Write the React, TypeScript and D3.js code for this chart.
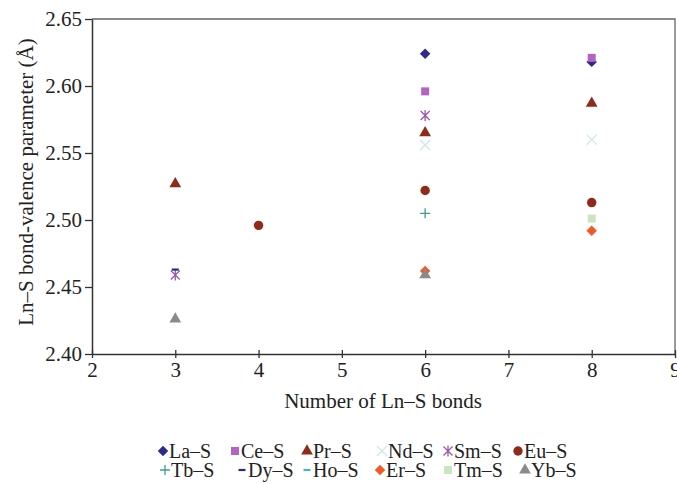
import React, { useEffect, useRef } from 'react';
import * as d3 from 'd3';

// [bond count, bond-valence parameter]
const laS: [number, number][] = [[6, 2.624], [8, 2.618]];
const ceS: [number, number][] = [[6, 2.596], [8, 2.621]];
const prS: [number, number][] = [[3, 2.527], [6, 2.565], [8, 2.587]];
const ndS: [number, number][] = [[6, 2.556], [8, 2.560]];
const smS: [number, number][] = [[3, 2.459], [6, 2.578]];
const euS: [number, number][] = [[4, 2.496], [6, 2.522], [8, 2.513]];
const tbS: [number, number][] = [[6, 2.505]];
const dyS: [number, number][] = [[3, 2.463]];
const hoS: [number, number][] = [];
const erS: [number, number][] = [[6, 2.462], [8, 2.492]];
const tmS: [number, number][] = [[8, 2.501]];
const ybS: [number, number][] = [[3, 2.426], [6, 2.459]];

const seriesNames = ['La–S', 'Ce–S', 'Pr–S', 'Nd–S', 'Sm–S', 'Eu–S', 'Tb–S', 'Dy–S', 'Ho–S', 'Er–S', 'Tm–S', 'Yb–S'];
const seriesData = [laS, ceS, prS, ndS, smS, euS, tbS, dyS, hoS, erS, tmS, ybS];
const seriesColors = ['#2f2a88', '#b463c2', '#8f2b1b', '#cfe7e7', '#9b55ad', '#8f2b1b', '#3f9a96', '#2d2b72', '#4aaedb', '#f05a28', '#c9e5c1', '#8a8a8a'];
const seriesMarkers = ['diamond', 'square', 'triangle', 'x', 'star', 'circle', 'plus', 'dash', 'dash', 'diamond', 'square', 'triangle'];

const xTicks = [2, 3, 4, 5, 6, 7, 8, 9];
const yTicks = [2.40, 2.45, 2.50, 2.55, 2.60, 2.65];

const FONT = '"Liberation Serif", "Times New Roman", serif';

const drawMarker = (g: any, kind: string, color: string) => {
  if (kind === 'diamond') {
    g.append('path').attr('d', d3.symbol(d3.symbolDiamond2, 70)()).attr('fill', color);
  } else if (kind === 'square') {
    g.append('path').attr('d', d3.symbol(d3.symbolSquare, 64)()).attr('fill', color);
  } else if (kind === 'triangle') {
    g.append('path').attr('d', d3.symbol(d3.symbolTriangle, 60)()).attr('fill', color);
  } else if (kind === 'circle') {
    g.append('path').attr('d', d3.symbol(d3.symbolCircle, 70)()).attr('fill', color);
  } else if (kind === 'x') {
    g.append('path').attr('d', 'M-5,-5L5,5M-5,5L5,-5').attr('stroke', color).attr('stroke-width', 1.3).attr('fill', 'none');
  } else if (kind === 'star') {
    g.append('path').attr('d', 'M-4.5,-4.5L4.5,4.5M-4.5,4.5L4.5,-4.5M0,-5.5L0,5.5').attr('stroke', color).attr('stroke-width', 1.3).attr('fill', 'none');
  } else if (kind === 'plus') {
    g.append('path').attr('d', 'M-5,0L5,0M0,-5L0,5').attr('stroke', color).attr('stroke-width', 1.3).attr('fill', 'none');
  } else if (kind === 'dash') {
    g.append('path').attr('d', 'M-3.5,0L3.5,0').attr('stroke', color).attr('stroke-width', 2.2).attr('fill', 'none');
  }
};

const App = () => {
  const svgRef = useRef<SVGSVGElement>(null);

  useEffect(() => {
    const margin = { top: 19, right: 2, bottom: 130, left: 92 };
    const W = 677;
    const H = 484;
    const width = W - margin.left - margin.right;
    const height = H - margin.top - margin.bottom;

    const root = d3.select(svgRef.current);
    root.selectAll('*').remove();
    root.attr('width', W).attr('height', H);

    root.append('rect').attr('width', W).attr('height', H).attr('fill', '#ffffff');

    const svg = root.append('g').attr('transform', `translate(${margin.left},${margin.top})`);

    const xScale = d3.scaleLinear().domain([2, 9]).range([0, width]);
    const yScale = d3.scaleLinear().domain([2.40, 2.65]).range([height, 0]);

    // frame (top and right)
    svg.append('path')
      .attr('d', `M0,0H${width}V${height}`)
      .attr('fill', 'none')
      .attr('stroke', '#666')
      .attr('stroke-width', 1.3);

    // x axis
    const xAxis = svg.append('g')
      .attr('transform', `translate(0,${height})`)
      .call(d3.axisBottom(xScale).tickValues(xTicks).tickSize(5).tickSizeOuter(0).tickFormat(d3.format('d')));
    xAxis.select('.domain').attr('stroke', '#333').attr('stroke-width', 1.5);
    xAxis.selectAll('.tick line').attr('stroke', '#333').attr('stroke-width', 1.3).attr('y1', -4).attr('y2', 4);
    xAxis.selectAll('.tick text')
      .attr('font-family', FONT).attr('font-size', 21).attr('fill', '#222').attr('y', 8);

    // y axis
    const yAxis = svg.append('g')
      .call(d3.axisLeft(yScale).tickValues(yTicks).tickSize(7).tickSizeOuter(0).tickFormat(d3.format('.2f')));
    yAxis.select('.domain').attr('stroke', '#333').attr('stroke-width', 1.5);
    yAxis.selectAll('.tick line').attr('stroke', '#333').attr('stroke-width', 1.3);
    yAxis.selectAll('.tick text')
      .attr('font-family', FONT).attr('font-size', 21).attr('fill', '#222').attr('x', -10);

    // points
    seriesData.forEach((pts, i) => {
      pts.forEach(([x, y]) => {
        const g = svg.append('g').attr('transform', `translate(${xScale(x)},${yScale(y)})`);
        drawMarker(g, seriesMarkers[i], seriesColors[i]);
      });
    });

    // axis titles
    root.append('text')
      .attr('x', 383).attr('y', 408)
      .attr('text-anchor', 'middle')
      .attr('font-family', FONT).attr('font-size', 21).attr('fill', '#222')
      .text('Number of Ln–S bonds');

    root.append('text')
      .attr('transform', 'translate(33,182) rotate(-90)')
      .attr('text-anchor', 'middle')
      .attr('font-family', FONT).attr('font-size', 21).attr('fill', '#222')
      .text('Ln–S bond-valence parameter (Å)');

    // legend
    const legendX = [163, 235, 307, 382, 448, 518, 165, 242, 307, 380, 448, 525];
    const legendY = [451, 470];
    seriesNames.forEach((name, i) => {
      const row = i < 6 ? 0 : 1;
      const g = root.append('g').attr('transform', `translate(${legendX[i]},${legendY[row]})`);
      drawMarker(g, seriesMarkers[i], seriesColors[i]);
      g.append('text')
        .attr('x', 6).attr('y', 7)
        .attr('font-family', FONT).attr('font-size', 20).attr('fill', '#222')
        .text(name);
    });
  }, []);

  return <svg ref={svgRef} style={{ display: 'block', position: 'absolute', left: 0, top: 0 }}></svg>;
};

export default App;
